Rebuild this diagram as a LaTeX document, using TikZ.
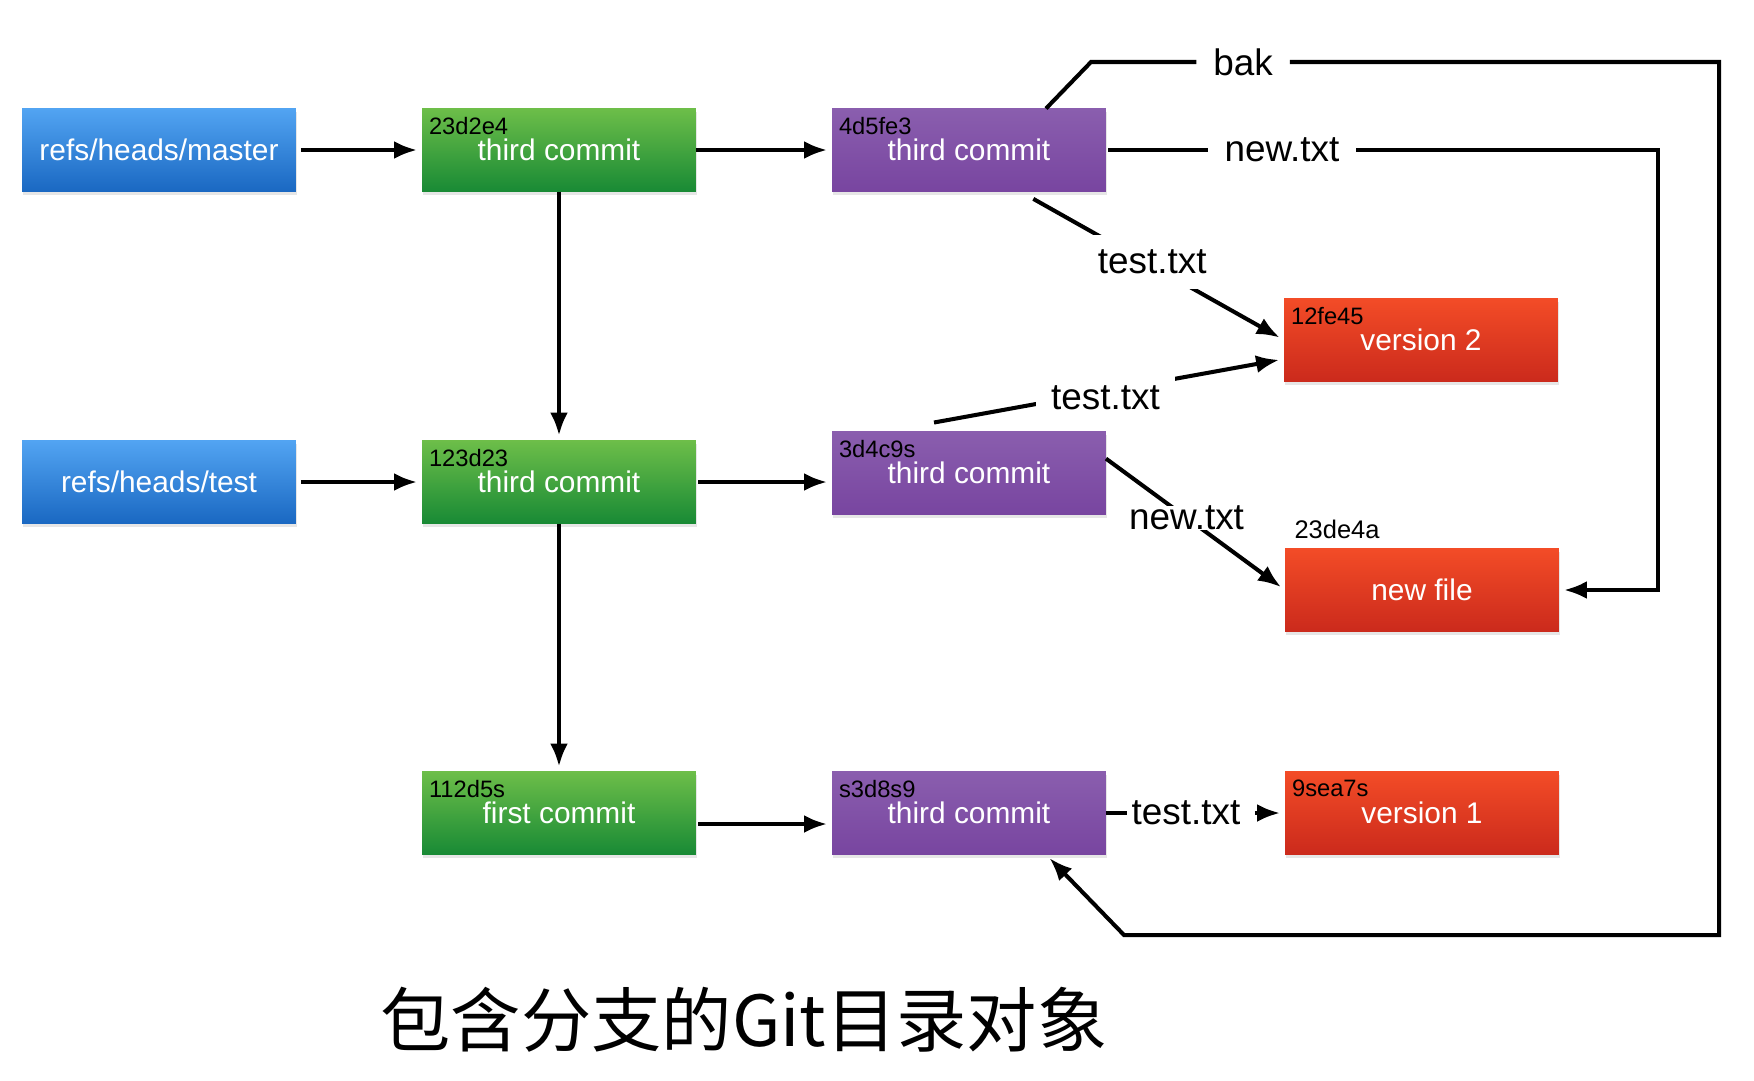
\documentclass[tikz,border=0pt]{standalone}
\usepackage{fontspec}
\setmainfont{Liberation Sans}
\newfontfamily\cjk{Noto Sans CJK SC}
\usepackage{tikz}
\usetikzlibrary{arrows.meta}
\usetikzlibrary{positioning}
\usetikzlibrary{calc}
\usetikzlibrary{shadows}

\definecolor{refTop}{HTML}{52A4F2}
\definecolor{refBot}{HTML}{1A68C2}
\definecolor{comTop}{HTML}{6DBE49}
\definecolor{comBot}{HTML}{188A35}
\definecolor{treeTop}{HTML}{8A5EAE}
\definecolor{treeBot}{HTML}{7845A0}
\definecolor{blobTop}{HTML}{F34C27}
\definecolor{blobBot}{HTML}{CB2A1C}

\begin{document}
\begin{tikzpicture}[x=0.02cm,y=-0.02cm,line width=2.3pt,
	box/.style={minimum width=5.48cm,minimum height=1.66cm,inner sep=0pt,outer sep=0pt,
		text=white,font=\fontsize{17}{20}\selectfont,
		drop shadow={opacity=0.2,shadow xshift=0.02cm,shadow yshift=-0.06cm}},
	refbox/.style={box,top color=refTop,bottom color=refBot},
	combox/.style={box,top color=comTop,bottom color=comBot},
	treebox/.style={box,top color=treeTop,bottom color=treeBot},
	blobbox/.style={box,top color=blobTop,bottom color=blobBot},
	hash/.style={anchor=north west,inner xsep=0.1cm,inner ysep=0.13cm,font=\fontsize{13.5}{15}\selectfont},
	lbl/.style={fill=white,inner sep=0.3cm,font=\fontsize{21}{24}\selectfont},
	arr/.style={-{Latex[length=0.46cm,width=0.36cm]},shorten >=0.1cm}]
	\useasboundingbox (0,0) rectangle (1754,1080);
	
	% refs
	\node[refbox] (master) at (159,150) {refs/heads/master};
	\node[refbox] (test) at (159,482) {refs/heads/test};
	
	% commits
	\node[combox] (c1) at (559,150) {third commit};
	\node[combox] (c2) at (559,482) {third commit};
	\node[combox] (c3) at (559,813) {first commit};
	
	% trees
	\node[treebox] (t1) at (969,150) {third commit};
	\node[treebox] (t2) at (969,473) {third commit};
	\node[treebox] (t3) at (969,813) {third commit};
	
	% blobs
	\node[blobbox] (v2) at (1421,340) {version 2};
	\node[blobbox] (nf) at (1422,590) {new file};
	\node[blobbox] (v1) at (1422,813) {version 1};
	
	\foreach \b/\h in {c1/23d2e4,c2/123d23,c3/112d5s,t1/4d5fe3,t2/3d4c9s,t3/s3d8s9,v2/12fe45,v1/9sea7s}
	\node[hash] (\b h) at (\b.north west) {\h};
	\node[font=\fontsize{14.5}{16}\selectfont] (nfh) at (1337,529) {23de4a};
	
	\draw[arr,shorten <=0.1cm] (master) -- (c1);
	\draw[arr,shorten <=0.1cm] (test) -- (c2);
	\draw[arr] (c1) -- (t1);
	\draw[arr] (c1) -- (c2);
	\draw[arr] (c2) -- (c3);
	\draw[arr,shorten <=0.05cm] (c2.east) -- (c2.east -| t2.west);
	\draw[arr,shorten <=0.05cm] ([yshift=-0.22cm]c3.east) -- ([yshift=-0.22cm]t3.west);
	
	% bak
	\node[lbl] (lbak) at (1243,62) {bak};
	\coordinate (bk1) at (1091,62);
	\coordinate (bk2) at (1719,62);
	\coordinate (bk3) at (1124,935);
	\draw ($(t1.north)+(77,0)$) -- (bk1) -- (lbak.west);
	\draw[arr] (lbak.east) -- (bk2) |- (bk3) -- ($(t3.south)+(77,0)$);
	
	% new.txt of t1
	\node[lbl] (lnew1) at (1282,150) {new.txt};
	\coordinate (nc) at (1658,150);
	\draw[shorten <=0.05cm] (t1.east) -- (lnew1.west);
	\draw[arr] (lnew1.east) -- (nc) |- (nf.east);
	
	% test.txt of t1 and t2, new.txt of t2
	\draw[arr,shorten <=0.3cm] (t1.-39) -- node[lbl,pos=0.5,yshift=0.08cm] (ltest1) {test.txt} (v2.west);
	\draw[arr] ($(t2.north)+(-35,-9)$) -- node[lbl,pos=0.49,yshift=-0.13cm] (ltest2) {test.txt} ($(v2.west)+(0,19)$);
	\draw[arr] (t2.6) -- node[lbl,inner sep=0pt,pos=0.45] (lnew2) {new.txt} (nf.west);
	
	% test.txt of t3
	\node[lbl,inner sep=0.05cm] (ltest3) at (1186,813) {test.txt};
	\draw (t3.east) -- (ltest3.west);
	\draw[arr,shorten <=0.2cm] (ltest3.east) -- (v1.west);
	
	\node[font=\cjk\fontsize{40}{44}\selectfont] (title) at (744,1020) {包含分支的Git目录对象};
\end{tikzpicture}
\end{document}
